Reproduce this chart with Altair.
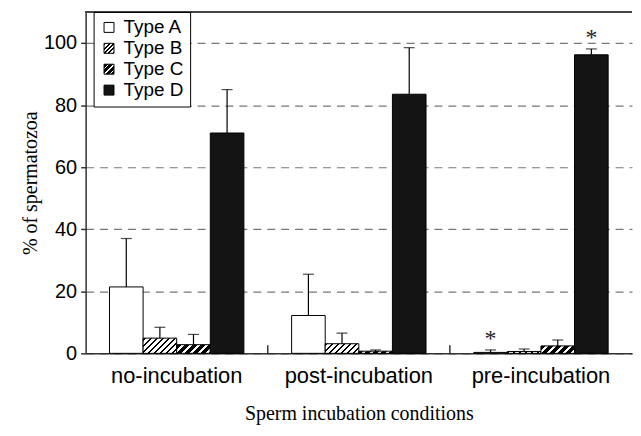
import altair as alt

# ---- data ----
conditions = ["no-incubation", "post-incubation", "pre-incubation"]
types = ["Type A", "Type B", "Type C", "Type D"]

type_a_mean = [21.4, 12.2, 0.3]
type_b_mean = [4.9, 3.1, 0.6]
type_c_mean = [2.8, 0.7, 2.4]
type_d_mean = [71.0, 83.5, 96.2]

type_a_err = [15.6, 13.3, 0.8]
type_b_err = [3.5, 3.4, 0.8]
type_c_err = [3.3, 0.4, 1.9]
type_d_err = [14.0, 15.0, 1.9]

sig_conditions = ["pre-incubation", "pre-incubation"]
sig_types = ["Type A", "Type D"]

# ---- layout constants ----
PLOT_W, PLOT_H = 549, 343
Y_MAX = 110
OFFSET_PAD = 0.71
BAR_W = (PLOT_W / 3) / (4 + 2 * OFFSET_PAD)

SANS = "Liberation Sans"
SERIF = "Liberation Serif"


def stripe_stops(w, h, period, black, phase=0.0, bg="white", fg="black"):
    L = w + h
    stops = [{"offset": 0.0, "color": bg}]
    s = phase
    while s < L:
        a0 = max(s, 0.0) / L
        a1 = min(s + black, L) / L
        if a1 > a0:
            stops += [{"offset": a0, "color": bg}, {"offset": a0, "color": fg},
                      {"offset": a1, "color": fg}, {"offset": a1, "color": bg}]
        s += period
    stops.append({"offset": 1.0, "color": bg})
    return stops


def stripe_gradient(w, h, period, black, phase=0.0):
    h = max(h, 0.5)
    L = w + h
    a = L / (w * w + h * h)
    return {"gradient": "linear", "x1": 0, "y1": 0, "x2": a * w, "y2": a * h,
            "stops": stripe_stops(w, h, period, black, phase)}


PATTERN = {"Type B": (6.0, 2.0, 1.0), "Type C": (8.0, 5.0, 0.0)}
SOLID = {"Type A": "white", "Type D": "#141414"}


def fill_for(t, value):
    if t in SOLID:
        return SOLID[t]
    period, black, phase = PATTERN[t]
    return stripe_gradient(BAR_W, value * PLOT_H / Y_MAX, period, black, phase)


def js_literal(obj):
    if isinstance(obj, dict):
        return "{" + ",".join(f"{k}:{js_literal(v)}" for k, v in obj.items()) + "}"
    if isinstance(obj, list):
        return "[" + ",".join(js_literal(v) for v in obj) + "]"
    if isinstance(obj, str):
        return "'" + obj + "'"
    return repr(float(obj))


def legend_fill(t):
    if t in SOLID:
        return SOLID[t]
    period, black, phase = PATTERN[t]
    g = stripe_gradient(10, 10, period * 0.7, black * 0.8, phase)
    return alt.ExprRef(expr=js_literal(g))


means = dict(zip(types, [type_a_mean, type_b_mean, type_c_mean, type_d_mean]))
errs = dict(zip(types, [type_a_err, type_b_err, type_c_err, type_d_err]))

rows = []
for t in types:
    for ci, c in enumerate(conditions):
        m = means[t][ci]
        rows.append({"cond": c, "type": t, "mean": m, "upper": m + errs[t][ci],
                     "fill": fill_for(t, m)})
bar_data = alt.Data(values=rows)

sig_rows = []
for c, t in zip(sig_conditions, sig_types):
    ci = conditions.index(c)
    sig_rows.append({"cond": c, "type": t, "upper": means[t][ci] + errs[t][ci]})
sig_data = alt.Data(values=sig_rows)

boundary_data = alt.Data(values=[{"cond": c} for c in conditions[1:]])

x_scale = alt.Scale(domain=conditions, paddingInner=0, paddingOuter=0)
x_axis = alt.Axis(title="Sperm incubation conditions")
y_scale = alt.Scale(domain=[0, Y_MAX], nice=False, zero=True)
y_axis = alt.Axis(values=[0, 20, 40, 60, 80, 100], title="% of spermatozoa")
xoff = alt.XOffset("type:N", sort=types,
                   scale=alt.Scale(domain=types, paddingInner=0, paddingOuter=OFFSET_PAD))


def X(**kw):
    return alt.X("cond:N", sort=conditions, scale=x_scale, axis=x_axis, **kw)


bars = alt.Chart(bar_data).mark_bar(stroke="black", strokeWidth=1).encode(
    x=X(),
    xOffset=xoff,
    y=alt.Y("mean:Q", scale=y_scale, axis=y_axis),
    fill=alt.Fill("fill:N", scale=None),
)

NBSP3 = "\u00a0\u00a0\u00a0"

legend_layer = alt.Chart(bar_data).mark_square(opacity=0, size=1).encode(
    x=X(),
    xOffset=xoff,
    y=alt.Y("mean:Q", scale=y_scale, axis=y_axis),
    color=alt.Color(
        "type:N",
        scale=alt.Scale(domain=types, range=[legend_fill(t) for t in types]),
        legend=alt.Legend(
            title=None, orient="none", legendX=8, legendY=0,
            fillColor="white", strokeColor="black", padding=6,
            labelFont=SANS, labelFontSize=19, labelColor="black", labelOffset=5,
            labelExpr="datum.label + '" + NBSP3 + "'",
            symbolType="square", symbolSize=100, symbolOpacity=1,
            symbolStrokeColor="black", symbolStrokeWidth=1, rowPadding=1,
        ),
    ),
)

err_rules = alt.Chart(bar_data).mark_rule(color="black", strokeWidth=1.2).encode(
    x=X(),
    xOffset=xoff,
    y=alt.Y("mean:Q", scale=y_scale, axis=y_axis),
    y2="upper:Q",
)

err_caps = alt.Chart(bar_data).mark_tick(color="black", thickness=1.2, size=11).encode(
    x=X(),
    xOffset=xoff,
    y=alt.Y("upper:Q", scale=y_scale, axis=y_axis),
)

stars = alt.Chart(sig_data).mark_text(
    text="*", font=SERIF, fontSize=24, color="#222", baseline="alphabetic", dy=-4
).encode(
    x=X(),
    xOffset=xoff,
    y=alt.Y("upper:Q", scale=y_scale, axis=y_axis),
)

top_border = alt.Chart(bar_data).mark_rule(color="#444", strokeWidth=1.5).encode(
    y=alt.datum(Y_MAX, scale=y_scale),
)

group_ticks = alt.Chart(boundary_data).mark_rule(color="#333", strokeWidth=1.5).encode(
    x=X(bandPosition=0),
    y=alt.datum(0),
    y2=alt.datum(2.6),
)

chart = alt.layer(
    bars, legend_layer, err_rules, err_caps, stars, top_border, group_ticks
).properties(
    width=PLOT_W, height=PLOT_H,
    padding={"left": 12, "top": 2, "right": 0, "bottom": 2},
    background="white",
).configure_view(
    stroke=None
).configure_axis(
    labelFont=SANS, labelColor="black",
    domainColor="#333", domainWidth=1.5, tickColor="#333", tickWidth=1.5,
    titleFont=SERIF, titleFontWeight="normal", titleColor="black", titleFontSize=20,
).configure_axisY(
    labelFontSize=20, tickSize=5, labelPadding=4, titlePadding=3,
    grid=True, gridDash=[8, 6], gridColor="#777", gridWidth=1.2,
).configure_axisX(
    labelFontSize=22, labelAngle=0, ticks=False, labelPadding=12, titlePadding=17,
    grid=False,
)

chart.save("out.html", embed_options={"renderer": "svg", "actions": False})
